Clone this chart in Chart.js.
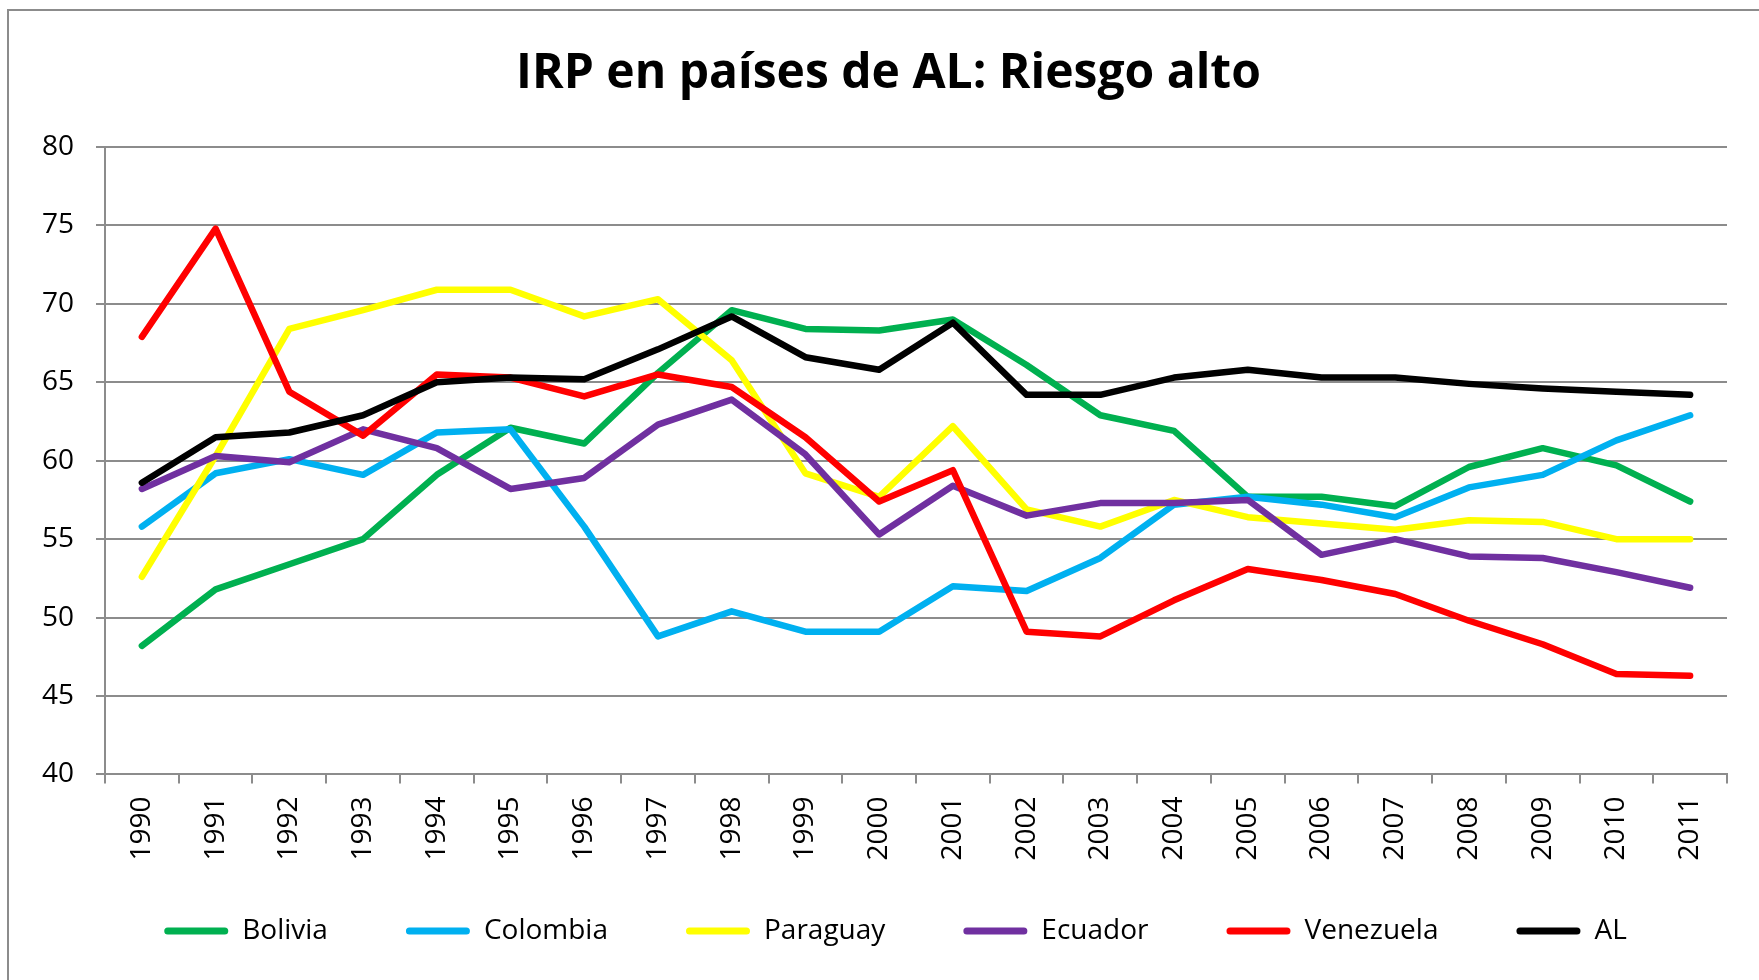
<!DOCTYPE html>
<html>
<head>
<meta charset="utf-8">
<script src="https://cdn.jsdelivr.net/npm/chart.js@4/dist/chart.umd.min.js"></script>
<style>
  html, body { margin: 0; padding: 0; background: #fff; overflow: hidden; }
  #frame { position: absolute; left: 7px; top: 9px; width: 2000px; height: 2000px;
           border-left: 2px solid #8c8c8c; border-top: 2px solid #8c8c8c; }
  #wrap { position: absolute; left: 0; top: 0; width: 1759px; height: 980px; }
</style>
</head>
<body>
<div id="frame"></div>
<div id="wrap"><canvas id="chart"></canvas></div>
<script>
const years = ["1990","1991","1992","1993","1994","1995","1996","1997","1998","1999","2000",
               "2001","2002","2003","2004","2005","2006","2007","2008","2009","2010","2011"];
const bolivia   = [48.2,51.8,53.4,55.0,59.1,62.1,61.1,65.6,69.6,68.4,68.3,69.0,66.1,62.9,61.9,57.7,57.7,57.1,59.6,60.8,59.7,57.4];
const colombia  = [55.8,59.2,60.1,59.1,61.8,62.0,55.8,48.8,50.4,49.1,49.1,52.0,51.7,53.8,57.2,57.7,57.2,56.4,58.3,59.1,61.3,62.9];
const paraguay  = [52.6,60.3,68.4,69.6,70.9,70.9,69.2,70.3,66.4,59.2,57.7,62.2,56.9,55.8,57.5,56.4,56.0,55.6,56.2,56.1,55.0,55.0];
const ecuador   = [58.2,60.3,59.9,62.0,60.8,58.2,58.9,62.3,63.9,60.4,55.3,58.4,56.5,57.3,57.3,57.5,54.0,55.0,53.9,53.8,52.9,51.9];
const venezuela = [67.9,74.8,64.4,61.6,65.5,65.3,64.1,65.5,64.7,61.5,57.4,59.4,49.1,48.8,51.1,53.1,52.4,51.5,49.8,48.3,46.4,46.3];
const al        = [58.6,61.5,61.8,62.9,65.0,65.3,65.2,67.1,69.2,66.6,65.8,68.8,64.2,64.2,65.3,65.8,65.3,65.3,64.9,64.6,64.4,64.2];
const yTicks = [40, 80, 5]; // min, max, step

const series = [
  ["Bolivia", bolivia, "#00b050"],
  ["Colombia", colombia, "#00b0f0"],
  ["Paraguay", paraguay, "#ffff00"],
  ["Ecuador", ecuador, "#7030a0"],
  ["Venezuela", venezuela, "#ff0000"],
  ["AL", al, "#000000"]
];

Chart.defaults.color = "#000";
Chart.defaults.font.family = "'Open Sans', sans-serif";
const gridColor = "#8c8c8c";

// legend padding is used both across and down; pull the row back up to where Excel puts it
const legendRow = {
  id: "legendRow",
  afterLayout(c) {
    const lg = c.legend;
    if (lg) {
      const h = lg.height;
      lg.top = 931 - lg.options.labels.padding - 14;
      lg.bottom = lg.top + h;
      lg.left += 22;
      lg.right += 22;
    }
    // Excel centres the title on the whole chart box, not on the padded area
    if (c.titleBlock) { c.titleBlock.left += 15; c.titleBlock.right += 15; }
  }
};

chart = new Chart(document.getElementById("chart"), {
  type: "line",
  data: {
    labels: years,
    datasets: series.map((s, i) => ({
      label: s[0], data: s[1], borderColor: s[2], backgroundColor: s[2],
      borderWidth: 6.5, pointRadius: 0, tension: 0,
      borderCapStyle: "round", borderJoinStyle: "round",
      order: series.length - i
    }))
  },
  plugins: [legendRow],
  options: {
    responsive: true, maintainAspectRatio: false, animation: false,
    layout: { padding: { left: 20, right: 32, top: 0, bottom: -9.5 } },
    plugins: {
      tooltip: { enabled: false },
      title: {
        display: true, text: "IRP en países de AL: Riesgo alto",
        font: { size: 48, weight: "bold" }, color: "#000",
        padding: { top: 46, bottom: 43.4 }
      },
      legend: {
        position: "bottom",
        labels: {
          font: { size: 28 }, boxWidth: 64, boxHeight: 7, padding: 78,
          generateLabels: c => c.data.datasets.map((d, i) => ({
            text: d.label, fillStyle: d.borderColor, strokeStyle: d.borderColor,
            lineWidth: 0, borderRadius: 3.5, fontColor: "#000", datasetIndex: i, hidden: false
          }))
        }
      }
    },
    scales: {
      x: {
        offset: true,
        grid: { offset: true, drawOnChartArea: false, tickLength: 9, color: gridColor, lineWidth: 2 },
        border: { color: gridColor, width: 2 },
        ticks: { minRotation: 90, maxRotation: 90, padding: 13, font: { size: 28 } }
      },
      y: {
        min: yTicks[0], max: yTicks[1],
        grid: { tickLength: 9, color: gridColor, lineWidth: 2 },
        border: { color: gridColor, width: 2 },
        ticks: { stepSize: yTicks[2], padding: 22, font: { size: 28 } }
      }
    }
  }
});
</script>
</body>
</html>
